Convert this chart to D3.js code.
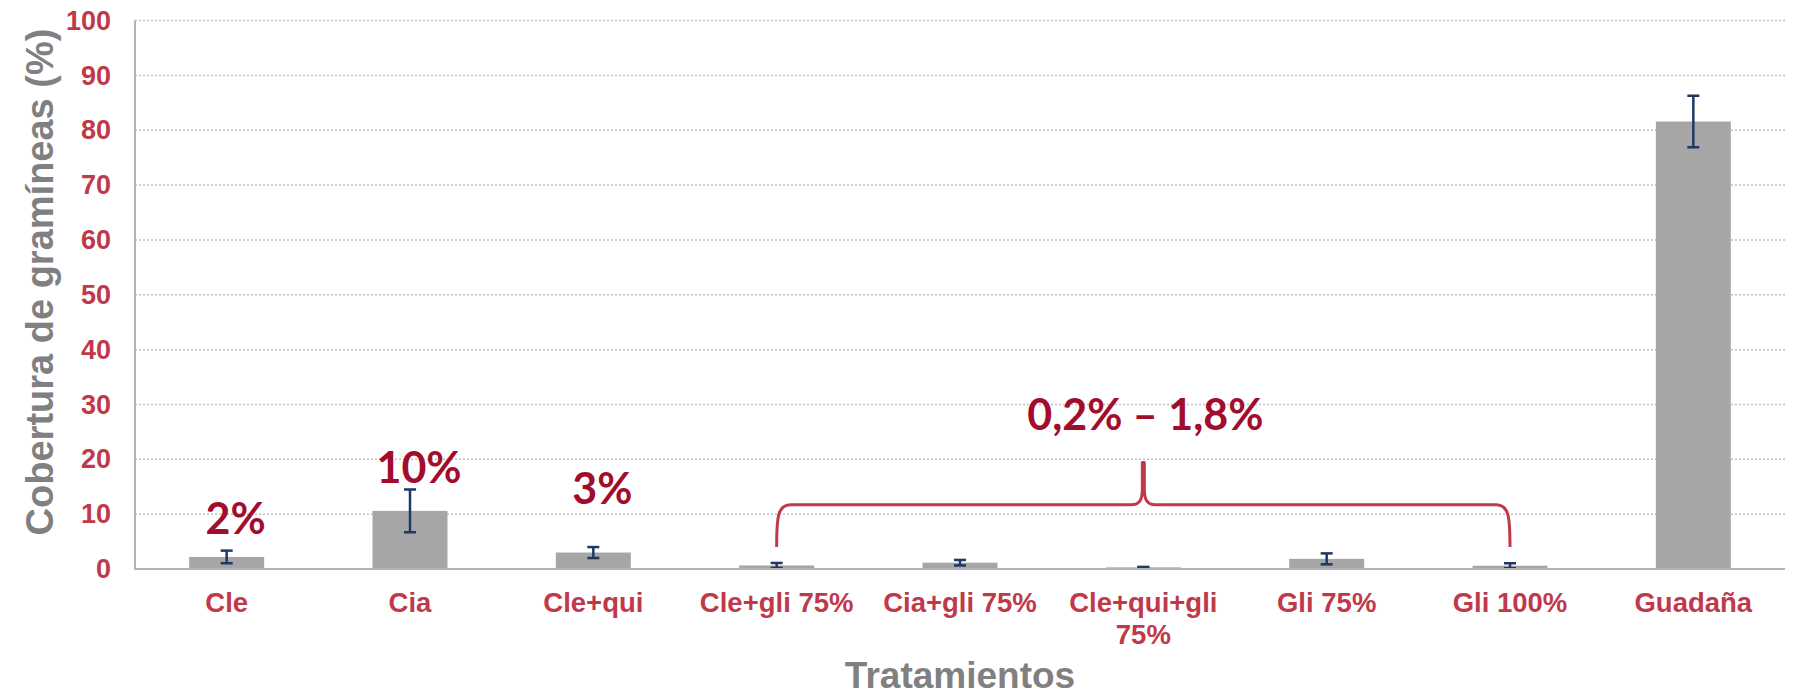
<!DOCTYPE html>
<html>
<head>
<meta charset="utf-8">
<script src="https://cdn.jsdelivr.net/npm/d3@7"></script>
<style>
  body { margin: 0; background: #fff; }
  svg { display: block; }
</style>
</head>
<body>
<div id="chart"></div>
<script>
// values
const categories = ['Cle', 'Cia', 'Cle+qui', 'Cle+gli 75%', 'Cia+gli 75%',
                    'Cle+qui+gli 75%', 'Gli 75%', 'Gli 100%', 'Guadaña'];
const coverage = [2.2, 10.6, 3.0, 0.65, 1.15, 0.3, 1.85, 0.6, 81.6];
const errors   = [1.15, 3.9, 1.0, 0.45, 0.5, 0.08, 1.0, 0.45, 4.7];
const yTicks = [0, 10, 20, 30, 40, 50, 60, 70, 80, 90, 100];
const wrapped = { 'Cle+qui+gli 75%': ['Cle+qui+gli', '75%'] };

// percentage notes above the first bars (value = baseline height in % units)
const noteCats = ['Cle', 'Cia', 'Cle+qui'];
const noteText = ['2%', '10%', '3%'];
const noteAt   = [6.4, 15.7, 11.9];

// brace over the glyphosate treatments
const braceCats = ['Cle+gli 75%', 'Gli 100%'];
const braceText = '0,2% – 1,8%';
const braceAt = { ends: 4.0, bar: 11.7, tip: 19.4, text: 25.3 };

const W = 1795, H = 697;
const m = { left: 135, right: 10, top: 20.6, bottom: 128 };

const svg = d3.select('#chart').append('svg').attr('width', W).attr('height', H);

const x = d3.scaleBand().domain(categories)
  .range([m.left, W - m.right])
  .paddingInner(0.591).paddingOuter(0.2955);
const y = d3.scaleLinear().domain([0, 100]).range([H - m.bottom, m.top]);
const cx = c => x(c) + x.bandwidth() / 2;

const FONT = '"Liberation Sans", Arial, sans-serif';
const RED = '#c0394b', DARKRED = '#a20d2d', GREY = '#808080';

// grid
svg.append('g').selectAll('line').data(yTicks.filter(t => t > 0)).enter()
  .append('line')
  .attr('x1', m.left).attr('x2', W - m.right)
  .attr('y1', d => y(d)).attr('y2', d => y(d))
  .attr('stroke', '#bfbfbf').attr('stroke-width', 1.5)
  .attr('stroke-dasharray', '2,2');

// y axis labels
const yAxis = d3.axisLeft(y).tickValues(yTicks).tickSize(0).tickPadding(24);
const gy = svg.append('g').attr('transform', 'translate(' + m.left + ',0)').call(yAxis);
gy.select('.domain').remove();
gy.selectAll('text')
  .attr('font-family', FONT).attr('font-weight', 'bold')
  .attr('font-size', 27).attr('fill', RED);

// bars
svg.append('g').selectAll('rect').data(categories).enter()
  .append('rect')
  .attr('x', d => x(d)).attr('width', x.bandwidth())
  .attr('y', (d, i) => y(coverage[i]))
  .attr('height', (d, i) => y(0) - y(coverage[i]))
  .attr('fill', '#a6a6a6');

// error bars
const eb = svg.append('g').attr('stroke', '#1f3864').attr('stroke-width', 2.5)
  .selectAll('g').data(categories).enter().append('g');
eb.append('line')
  .attr('x1', d => cx(d)).attr('x2', d => cx(d))
  .attr('y1', (d, i) => y(coverage[i] + errors[i]))
  .attr('y2', (d, i) => y(Math.max(0, coverage[i] - errors[i])));
[1, -1].forEach(s => {
  eb.append('line')
    .attr('x1', d => cx(d) - 6).attr('x2', d => cx(d) + 6)
    .attr('y1', (d, i) => y(Math.max(0, coverage[i] + s * errors[i])))
    .attr('y2', (d, i) => y(Math.max(0, coverage[i] + s * errors[i])));
});

// axes lines
svg.append('path')
  .attr('d', 'M' + m.left + ',' + y(100) + 'V' + y(0) + 'H' + (W - m.right))
  .attr('fill', 'none').attr('stroke', '#b3b3b3').attr('stroke-width', 2);

// x labels
const xl = svg.append('g').selectAll('text').data(categories).enter()
  .append('text')
  .attr('x', d => cx(d)).attr('y', y(0) + 43)
  .attr('text-anchor', 'middle')
  .attr('font-family', FONT).attr('font-weight', 'bold')
  .attr('font-size', 27.5).attr('fill', RED);
xl.each(function(d) {
  const lines = wrapped[d] || [d];
  d3.select(this).selectAll('tspan').data(lines).enter().append('tspan')
    .attr('x', cx(d)).attr('dy', (l, i) => i ? 31.5 : 0).text(l => l);
});

// axis titles
svg.append('text')
  .attr('x', (m.left + W - m.right) / 2).attr('y', 688)
  .attr('text-anchor', 'middle')
  .attr('font-family', FONT).attr('font-weight', 'bold')
  .attr('font-size', 37).attr('fill', GREY)
  .text('Tratamientos');
svg.append('text')
  .attr('transform', 'translate(53,282) rotate(-90)')
  .attr('text-anchor', 'middle')
  .attr('font-family', FONT).attr('font-weight', 'bold')
  .attr('font-size', 38).attr('fill', GREY)
  .text('Cobertura de gramíneas (%)');

// notes
const NOTEFONT = 'Lato, "Open Sans", sans-serif';
svg.append('g').selectAll('text').data(noteCats).enter()
  .append('text')
  .attr('x', d => cx(d) + 9).attr('y', (d, i) => y(noteAt[i]))
  .attr('text-anchor', 'middle')
  .attr('font-family', NOTEFONT).attr('font-weight', 'bold')
  .attr('font-size', 43).attr('fill', DARKRED)
  .text((d, i) => noteText[i]);

// brace
const bl = cx(braceCats[0]), br = cx(braceCats[1]), bm = (bl + br) / 2;
const yE = y(braceAt.ends), yB = y(braceAt.bar), yT = y(braceAt.tip);
const p = d3.path();
p.moveTo(bl, yE);
p.bezierCurveTo(bl, yB + 12, bl + 1, yB, bl + 14, yB);
p.lineTo(bm - 12, yB);
p.bezierCurveTo(bm - 3, yB, bm - 1, yB - 6, bm - 1, yB - 16);
p.lineTo(bm - 1, yT);
p.lineTo(bm + 1, yT);
p.lineTo(bm + 1, yB - 16);
p.bezierCurveTo(bm + 1, yB - 6, bm + 3, yB, bm + 12, yB);
p.lineTo(br - 14, yB);
p.bezierCurveTo(br - 1, yB, br, yB + 12, br, yE);
svg.append('path').attr('d', p.toString())
  .attr('fill', 'none').attr('stroke', RED).attr('stroke-width', 3)
  .attr('stroke-linejoin', 'round');

svg.append('text')
  .attr('x', bm + 2).attr('y', y(braceAt.text))
  .attr('text-anchor', 'middle')
  .attr('font-family', NOTEFONT).attr('font-weight', 'bold')
  .attr('font-size', 43).attr('fill', DARKRED)
  .text(braceText);
</script>
</body>
</html>
